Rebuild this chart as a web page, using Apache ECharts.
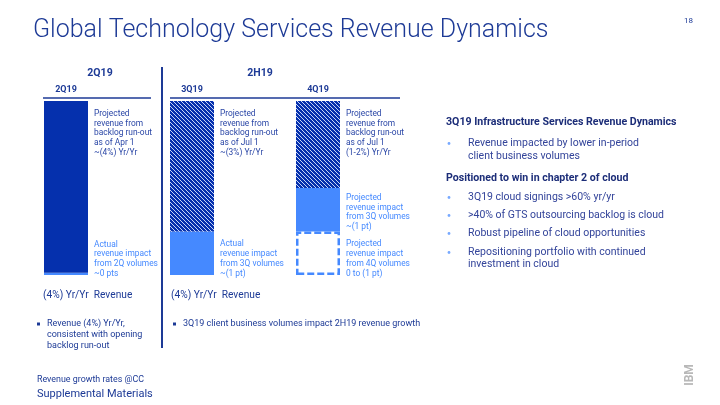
<!DOCTYPE html>
<html><head><meta charset="utf-8">
<script src="https://cdn.jsdelivr.net/npm/echarts@6/dist/echarts.min.js"></script>
<style>html,body{margin:0;padding:0;background:#fff}#c{width:720px;height:405px}</style>
</head><body><div id="c"></div>
<script>
// ---- data ----
const categories = ['2Q19', '3Q19', '4Q19'];
const currentVolume = [0.05, 1, 1];   // in-quarter volume impact (pts)
const priorVolume = [0, 0, 1];        // 3Q volume impact carried into 4Q (pts)
const backlog = [3.95, 3, 2];         // projected revenue from backlog run-out (pts)
const backlogLabels = [
  'Projected\nrevenue from\nbacklog run-out\nas of Apr 1\n~(4%) Yr/Yr',
  'Projected\nrevenue from\nbacklog run-out\nas of Jul 1\n~(3%) Yr/Yr',
  'Projected\nrevenue from\nbacklog run-out\nas of Jul 1\n(1-2%) Yr/Yr'
];
const currentVolumeLabels = [
  'Actual\nrevenue impact\nfrom 2Q volumes\n~0 pts',
  'Actual\nrevenue impact\nfrom 3Q volumes\n~(1 pt)',
  'Projected\nrevenue impact\nfrom 4Q volumes\n0 to (1 pt)'
];
const priorVolumeLabels = ['', '', 'Projected\nrevenue impact\nfrom 3Q volumes\n~(1 pt)'];
const periodHeaders = ['2Q19', '2H19'];
const revenueNotes = ['(4%) Yr/Yr  Revenue', '(4%) Yr/Yr  Revenue'];

// ---- styles ----
const NAVY = '#1d3a96', DARK = '#0530ad', LIGHT = '#4589ff', TXT = '#2a46a6';
const FONT = 'Roboto, "Noto Sans", sans-serif';

function hatch() {
  const c = document.createElement('canvas'); c.width = 4; c.height = 4;
  const g = c.getContext('2d');
  g.fillStyle = DARK; g.fillRect(0, 0, 4, 4);
  g.fillStyle = '#c6d4f8';
  for (let i = 0; i < 4; i++) g.fillRect(i, i, 1, 1);
  return c;
}
const hatchFill = { image: hatch(), repeat: 'repeat' };

const lbl = (txt, color, pos) => ({
  show: true, formatter: () => txt, position: pos || [50, 7],
  align: 'left', verticalAlign: 'top', color: color,
  fontFamily: FONT, fontSize: 8.4, lineHeight: 9.7
});

const chart = echarts.init(document.getElementById('c'), null, { renderer: 'canvas' });

const curData = currentVolume.map((v, i) => ({
  value: v,
  itemStyle: i === 2
    ? { color: '#fff', borderColor: LIGHT, borderWidth: 2.5, borderType: [7, 3] }
    : { color: LIGHT },
  label: lbl(currentVolumeLabels[i], LIGHT, i === 0 ? [50, -33] : [50, 8])
}));
const priorData = priorVolume.map((v, i) => ({
  value: v, itemStyle: { color: LIGHT },
  label: lbl(priorVolumeLabels[i], LIGHT, [50, 5])
}));
const backlogData = backlog.map((v, i) => ({
  value: v, itemStyle: { color: i === 0 ? DARK : hatchFill },
  label: lbl(backlogLabels[i], TXT, [50, 8])
}));

const T = (x, y, text, style) => ({ type: 'text', x, y, style: Object.assign({ text, fill: NAVY, fontFamily: FONT, fontSize: 10, verticalAlign: 'middle' }, style || {}) });
const L = (x1, y1, x2, y2, w) => ({ type: 'line', shape: { x1, y1, x2, y2 }, style: { stroke: NAVY, lineWidth: w || 1.5 } });
const sq = (x, y) => ({ type: 'rect', shape: { x: x, y: y - 1.5, width: 3, height: 3 }, style: { fill: NAVY } });
const dot = (x, y) => ({ type: 'circle', shape: { cx: x, cy: y, r: 1.4 }, style: { fill: '#78a9ff' } });

const RT = '#33449a';
const HB = '#1c2d78';
const graphic = [
  T(33, 31, 'Global Technology Services Revenue Dynamics', { fontSize: 25, fontWeight: 300 }),
  T(684, 21, '18', { fontSize: 8 }),
  T(100, 73, periodHeaders[0], { fontWeight: 'bold', fontSize: 10.5, align: 'center' }),
  T(260, 73, periodHeaders[1], { fontWeight: 'bold', fontSize: 10.5, align: 'center' }),
  L(43, 98, 151, 98), L(170, 98, 400, 98),
  L(162, 67, 162, 348, 2),
  T(43, 295, revenueNotes[0], { fontSize: 10.2 }),
  T(171, 295, revenueNotes[1], { fontSize: 10.2 }),
  sq(37, 324), T(47, 324, 'Revenue (4%) Yr/Yr,', { fontSize: 9 }),
  T(47, 335, 'consistent with opening', { fontSize: 9 }),
  T(47, 345.5, 'backlog run-out', { fontSize: 9 }),
  sq(173, 324), T(183, 324, '3Q19 client business volumes impact 2H19 revenue growth', { fontSize: 9 }),
  T(37, 380, 'Revenue growth rates @CC', { fontSize: 8.9 }),
  T(37, 394, 'Supplemental Materials', { fontSize: 11 }),
  T(446, 122, '3Q19 Infrastructure Services Revenue Dynamics', { fontWeight: 'bold', fontSize: 10.6, fill: HB }),
  dot(449, 143.5), T(468, 143.5, 'Revenue impacted by lower in-period', { fontSize: 10.5, fill: RT }),
  T(468, 156, 'client business volumes', { fontSize: 10.5, fill: RT }),
  T(446, 178, 'Positioned to win in chapter 2 of cloud', { fontWeight: 'bold', fontSize: 10.6, fill: HB }),
  dot(449, 197.5), T(468, 197, '3Q19 cloud signings >60% yr/yr', { fontSize: 10.5, fill: RT }),
  dot(449, 215.5), T(468, 215, '>40% of GTS outsourcing backlog is cloud', { fontSize: 10.5, fill: RT }),
  dot(449, 233.5), T(468, 233.5, 'Robust pipeline of cloud opportunities', { fontSize: 10.5, fill: RT }),
  dot(449, 252.5), T(468, 252.5, 'Repositioning portfolio with continued', { fontSize: 10.5, fill: RT }),
  T(468, 264.5, 'investment in cloud', { fontSize: 10.5, fill: RT }),
  { type: 'text', x: 690, y: 375, rotation: Math.PI / 2, style: { text: 'IBM', fill: '#b8b8b8', fontFamily: FONT, fontWeight: 'bold', fontSize: 12, align: 'center', verticalAlign: 'middle' } }
];

chart.setOption({
  animation: false,
  grid: { left: 3, width: 378, top: 101, height: 174 },
  xAxis: {
    type: 'category', data: categories, position: 'top',
    axisLine: { show: false }, axisTick: { show: false },
    axisLabel: { color: NAVY, fontWeight: 'bold', fontSize: 9, fontFamily: FONT, margin: 7 }
  },
  yAxis: { type: 'value', min: 0, max: 4, show: false, splitLine: { show: false } },
  series: [
    { name: 'Current-quarter volumes', type: 'bar', stack: 's', barWidth: 44, data: curData },
    { name: 'Prior-quarter volumes', type: 'bar', stack: 's', barWidth: 44, data: priorData },
    { name: 'Backlog run-out', type: 'bar', stack: 's', barWidth: 44, data: backlogData }
  ],
  graphic: graphic
});
</script></body></html>
